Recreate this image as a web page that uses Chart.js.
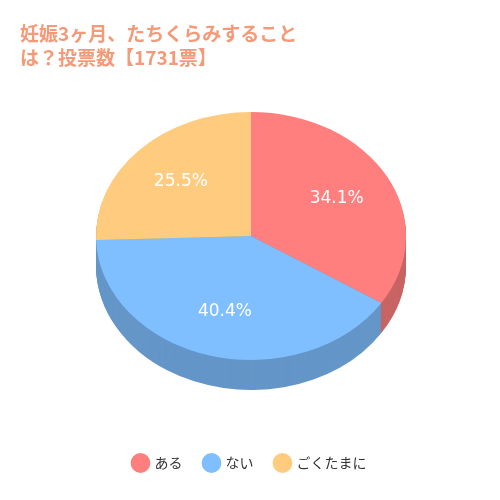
<!DOCTYPE html>
<html>
<head>
<meta charset="utf-8">
<script src="https://cdn.jsdelivr.net/npm/chart.js@4"></script>
<style>
  body { margin: 0; background: #fff; }
  #wrap { width: 500px; height: 500px; }
</style>
</head>
<body>
<div id="wrap"><canvas id="chart"></canvas></div>
<script>
  const categories = ['ある', 'ない', 'ごくたまに'];
  const values = [34.1, 40.4, 25.5];
  const colors = ['#ff7f7f', '#7fbfff', '#ffcc7f'];
  const sideColors = ['#c86464', '#6496c8', '#c8a064'];

  // ellipse geometry on screen
  const CX = 251, CY = 236, RX = 155, RY = 124, DEPTH = 30;

  const tilt = {
    id: 'tilt',
    beforeDatasetsDraw(chart) {
      const ctx = chart.ctx;
      const arcs = chart.getDatasetMeta(0).data;
      const a0 = arcs[0];
      const R = a0.outerRadius;
      ctx.save();
      ctx.translate(CX, CY);
      ctx.scale(RX / R, RY / R);
      ctx.translate(-a0.x, -a0.y);
      // side walls
      const step = R / RY;
      for (let d = DEPTH; d > 0; d--) {
        arcs.forEach((a, i) => {
          ctx.beginPath();
          ctx.moveTo(a.x, a.y + d * step);
          ctx.arc(a.x, a.y + d * step, R, a.startAngle, a.endAngle);
          ctx.closePath();
          ctx.fillStyle = sideColors[i];
          ctx.fill();
        });
      }
    },
    afterDatasetsDraw(chart) {
      const ctx = chart.ctx;
      ctx.restore();
      const arcs = chart.getDatasetMeta(0).data;
      ctx.save();
      ctx.fillStyle = '#fff';
      ctx.font = '17px "DejaVu Sans"';
      ctx.textAlign = 'center';
      ctx.textBaseline = 'middle';
      arcs.forEach((a, i) => {
        const mid = (a.startAngle + a.endAngle) / 2;
        const x = CX + RX * 0.63 * Math.cos(mid);
        const y = CY + RY * 0.63 * Math.sin(mid);
        ctx.fillText(values[i].toFixed(1) + '%', x, y);
      });
      ctx.restore();
    }
  };

  new Chart(document.getElementById('chart'), {
    type: 'pie',
    data: {
      labels: categories,
      datasets: [{
        data: values,
        backgroundColor: colors,
        borderWidth: 0,
        hoverOffset: 0
      }]
    },
    options: {
      responsive: true,
      maintainAspectRatio: false,
      animation: false,
      events: [],
      layout: { padding: { top: 0, bottom: 20, left: 20, right: 20 } },
      plugins: {
        title: {
          display: true,
          text: ['妊娠3ヶ月、たちくらみすること', 'は？投票数【1731票】'],
          align: 'start',
          color: '#f59a78',
          font: { size: 19, weight: 'bold', family: '"Noto Sans CJK JP"', lineHeight: 1.25 },
          padding: { top: 22, bottom: 20, left: 0 },
          fullSize: false
        },
        legend: {
          position: 'bottom',
          labels: {
            usePointStyle: true,
            pointStyle: 'circle',
            boxWidth: 14,
            boxHeight: 14,
            padding: 22,
            color: '#333',
            font: { size: 14, family: '"Noto Sans CJK JP"' }
          }
        },
        tooltip: { enabled: false }
      }
    },
    plugins: [tilt]
  });
</script>
</body>
</html>
